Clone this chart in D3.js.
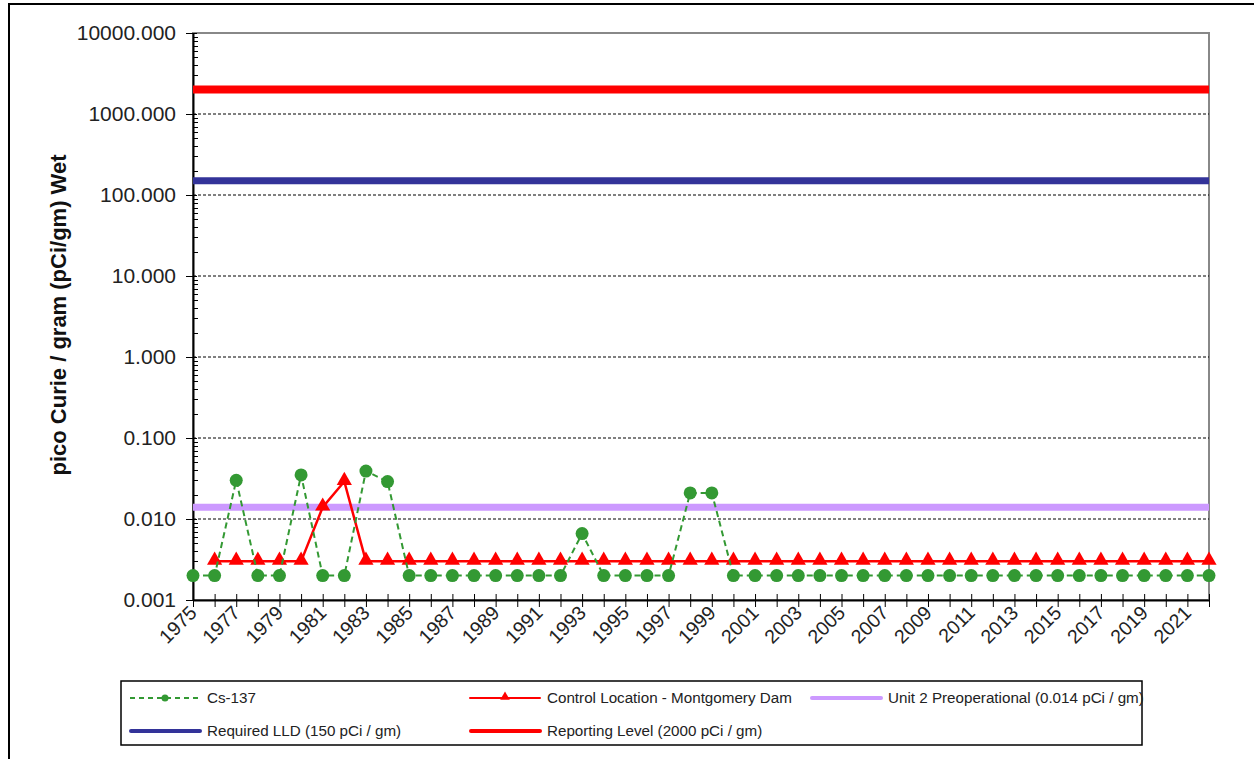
<!DOCTYPE html>
<html>
<head>
<meta charset="utf-8">
<script src="https://cdn.jsdelivr.net/npm/d3@7"></script>
<style>
  body { margin: 0; background: #fff; }
  text { font-family: "Liberation Sans", Arial, sans-serif; }
</style>
</head>
<body>
<svg width="1254" height="759"></svg>
<script>
// data
var years = d3.range(1975, 2023);
var cs137 = [0.002, 0.002, 0.030, 0.002, 0.002, 0.035, 0.002, 0.002, 0.039, 0.029,
	0.002, 0.002, 0.002, 0.002, 0.002, 0.002, 0.002, 0.002, 0.0066, 0.002,
	0.002, 0.002, 0.002, 0.021, 0.021, 0.002, 0.002, 0.002, 0.002, 0.002,
	0.002, 0.002, 0.002, 0.002, 0.002, 0.002, 0.002, 0.002, 0.002, 0.002,
	0.002, 0.002, 0.002, 0.002, 0.002, 0.002, 0.002, 0.002];
var control = [null, 0.003, 0.003, 0.003, 0.003, 0.003, 0.014, 0.029, 0.003, 0.003,
	0.003, 0.003, 0.003, 0.003, 0.003, 0.003, 0.003, 0.003, 0.003, 0.003,
	0.003, 0.003, 0.003, 0.003, 0.003, 0.003, 0.003, 0.003, 0.003, 0.003,
	0.003, 0.003, 0.003, 0.003, 0.003, 0.003, 0.003, 0.003, 0.003, 0.003,
	0.003, 0.003, 0.003, 0.003, 0.003, 0.003, 0.003, 0.003];
var preop = 0.014;
var requiredLLD = 150;
var reportingLevel = 2000;
var yTicks = [0.001, 0.01, 0.1, 1, 10, 100, 1000, 10000];
var xLabels = d3.range(1975, 2023, 2);

var svg = d3.select("svg");

// outer frame (open to the right and bottom)
svg.append("path")
	.attr("d", "M9,759V4H1254")
	.attr("fill", "none")
	.attr("stroke", "#000")
	.attr("stroke-width", 2);

var xScale = d3.scaleLinear()
	.domain([1975, 2022])
	.range([193, 1209]);

var yScale = d3.scaleLog()
	.domain([0.001, 10000])
	.range([600, 33]);

// plot border
svg.append("rect")
	.attr("x", 193).attr("y", 33)
	.attr("width", 1209 - 193).attr("height", 600 - 33)
	.attr("fill", "none")
	.attr("stroke", "#888")
	.attr("stroke-width", 2);

// gridlines
svg.selectAll(".grid")
	.data(yTicks.slice(1, -1))
	.enter()
	.append("line")
	.attr("class", "grid")
	.attr("x1", 193).attr("x2", 1209)
	.attr("y1", function(d) { return yScale(d); })
	.attr("y2", function(d) { return yScale(d); })
	.attr("stroke", "#000")
	.attr("stroke-width", 1)
	.attr("stroke-dasharray", "3,2");

// minor ticks on y axis
var minor = [];
yTicks.slice(0, -1).forEach(function(t) {
	for (var k = 2; k < 10; k++) minor.push(t * k);
});
svg.selectAll(".minor")
	.data(minor)
	.enter()
	.append("line")
	.attr("class", "minor")
	.attr("x1", 193).attr("x2", 198)
	.attr("y1", function(d) { return Math.round(yScale(d)) + 0.5; })
	.attr("y2", function(d) { return Math.round(yScale(d)) + 0.5; })
	.attr("stroke", "#000");

// Y axis
var yAxis = d3.axisLeft(yScale)
	.tickValues(yTicks)
	.tickFormat(d3.format(".3f"))
	.tickSizeInner(7)
	.tickSizeOuter(0)
	.tickPadding(10);

var gy = svg.append("g")
	.attr("transform", "translate(193,0)")
	.call(yAxis);
gy.select(".domain").attr("stroke", "#000").attr("stroke-width", 2);
gy.selectAll(".tick line").attr("x2", 4).attr("x1", -7);
gy.selectAll("text")
	.attr("fill", "#222")
	.style("font-size", "21px")
	.style("font-family", "'Liberation Sans', Arial, sans-serif");

// X axis
var xAxis = d3.axisBottom(xScale)
	.tickValues(years)
	.tickFormat("")
	.tickSizeInner(7)
	.tickSizeOuter(0);

var gx = svg.append("g")
	.attr("transform", "translate(0,600)")
	.call(xAxis);
gx.select(".domain").attr("stroke", "#000").attr("stroke-width", 2);
gx.selectAll(".tick line").attr("y1", -6).attr("y2", 7).attr("stroke", "#000");

svg.selectAll(".xlabel")
	.data(xLabels)
	.enter()
	.append("text")
	.attr("class", "xlabel")
	.attr("transform", function(d) { return "translate(" + (xScale(d) + 5) + ",614) rotate(-45)"; })
	.attr("text-anchor", "end")
	.attr("fill", "#222")
	.style("font-size", "19.5px")
	.text(function(d) { return d; });

// Y axis title
svg.append("text")
	.attr("transform", "translate(66,315) rotate(-90)")
	.attr("text-anchor", "middle")
	.attr("font-weight", "bold")
	.attr("fill", "#111")
	.style("font-size", "22px")
	.text("pico Curie / gram (pCi/gm) Wet");

// reference lines
var refLines = [
	{ v: preop, color: "#cc99ff", w: 7 },
	{ v: requiredLLD, color: "#333399", w: 7 },
	{ v: reportingLevel, color: "#ff0000", w: 8 }
];
svg.selectAll(".ref")
	.data(refLines)
	.enter()
	.append("line")
	.attr("class", "ref")
	.attr("x1", 193).attr("x2", 1209)
	.attr("y1", function(d) { return yScale(d.v); })
	.attr("y2", function(d) { return yScale(d.v); })
	.attr("stroke", function(d) { return d.color; })
	.attr("stroke-width", function(d) { return d.w; });

// Control location series
var controlData = years.map(function(y, i) { return { x: y, v: control[i] }; })
	.filter(function(d) { return d.v != null; });

var line = d3.line()
	.x(function(d) { return xScale(d.x); })
	.y(function(d) { return yScale(d.v); });

svg.append("path")
	.datum(controlData)
	.attr("d", line)
	.attr("fill", "none")
	.attr("stroke", "#ff0000")
	.attr("stroke-width", 2.5);

var tri = d3.symbol().type(d3.symbolTriangle).size(100);
svg.selectAll(".tri")
	.data(controlData)
	.enter()
	.append("path")
	.attr("class", "tri")
	.attr("d", tri)
	.attr("transform", function(d) { return "translate(" + xScale(d.x) + "," + (yScale(d.v) - 1) + ")"; })
	.attr("fill", "#ff0000");

// Cs-137 series
var csData = years.map(function(y, i) { return { x: y, v: cs137[i] }; });

svg.append("path")
	.datum(csData)
	.attr("d", line)
	.attr("fill", "none")
	.attr("stroke", "#339933")
	.attr("stroke-width", 2)
	.attr("stroke-dasharray", "6,4");

svg.selectAll(".dot")
	.data(csData)
	.enter()
	.append("circle")
	.attr("class", "dot")
	.attr("cx", function(d) { return xScale(d.x); })
	.attr("cy", function(d) { return yScale(d.v); })
	.attr("r", 6.5)
	.attr("fill", "#339933");

// Legend
var legend = svg.append("g");
legend.append("rect")
	.attr("x", 121).attr("y", 681)
	.attr("width", 1021).attr("height", 64)
	.attr("fill", "#fff")
	.attr("stroke", "#000")
	.attr("stroke-width", 1.5);

var legendItems = [
	{ label: "Cs-137", x: 130, y: 698, color: "#339933", w: 2, dash: "5,4", mark: "circle", len: 70 },
	{ label: "Control Location - Montgomery Dam", x: 470, y: 698, color: "#ff0000", w: 2, dash: null, mark: "tri", len: 70 },
	{ label: "Unit 2 Preoperational (0.014 pCi / gm)", x: 812, y: 698, color: "#cc99ff", w: 4, dash: null, mark: null, len: 69 },
	{ label: "Required LLD (150 pCi / gm)", x: 131, y: 731, color: "#333399", w: 4, dash: null, mark: null, len: 69 },
	{ label: "Reporting Level (2000 pCi / gm)", x: 471, y: 731, color: "#ff0000", w: 4, dash: null, mark: null, len: 69 }
];

legendItems.forEach(function(d) {
	legend.append("line")
		.attr("x1", d.x).attr("x2", d.x + d.len)
		.attr("y1", d.y).attr("y2", d.y)
		.attr("stroke", d.color)
		.attr("stroke-width", d.w)
		.attr("stroke-linecap", d.dash ? "butt" : "round")
		.attr("stroke-dasharray", d.dash);
	if (d.mark === "circle") {
		legend.append("circle")
			.attr("cx", d.x + d.len / 2).attr("cy", d.y).attr("r", 3.5)
			.attr("fill", d.color);
	} else if (d.mark === "tri") {
		legend.append("path")
			.attr("d", d3.symbol().type(d3.symbolTriangle).size(40))
			.attr("transform", "translate(" + (d.x + d.len / 2) + "," + (d.y - 1) + ")")
			.attr("fill", d.color);
	}
	legend.append("text")
		.attr("x", d.x + d.len + 7)
		.attr("y", d.y + 5)
		.attr("fill", "#222")
		.style("font-size", "15.2px")
		.text(d.label);
});
</script>
</body>
</html>
